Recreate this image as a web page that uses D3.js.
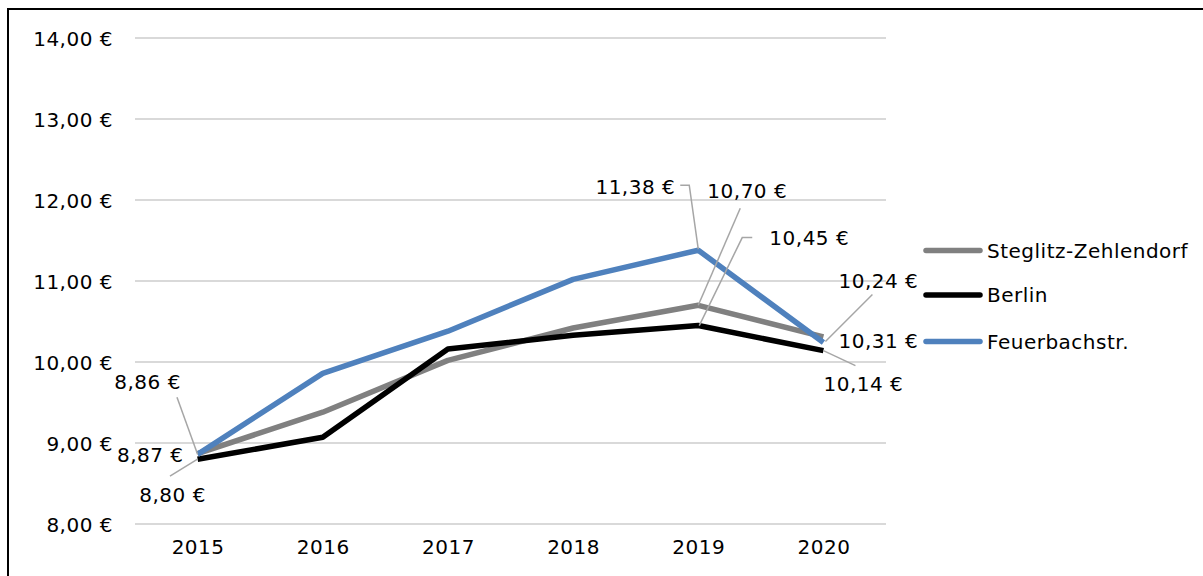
<!DOCTYPE html>
<html><head><meta charset="utf-8">
<script src="https://cdn.jsdelivr.net/npm/d3@7"></script>
<style>
html,body{margin:0;padding:0;background:#fff;}
svg{display:block;}
text{font-family:"DejaVu Sans",sans-serif;fill:#000;}
</style></head>
<body>
<svg id="chart" width="1203" height="576"></svg>
<script>
// ---- data ----
const years = [2015, 2016, 2017, 2018, 2019, 2020];
const seriesNames = ["Steglitz-Zehlendorf", "Berlin", "Feuerbachstr."];
const steglitz = [8.87, 9.38, 10.02, 10.42, 10.70, 10.31];
const berlin = [8.80, 9.07, 10.16, 10.33, 10.45, 10.14];
const feuerbach = [8.86, 9.86, 10.38, 11.02, 11.38, 10.24];
const yTicks = [8, 9, 10, 11, 12, 13, 14];
const labelledYears = [2015, 2019, 2020];

// ---- layout / style ----
const colors = ["#808080", "#000000", "#4f81bd"];
const plot = {left: 135, right: 886, top: 38, bottom: 524};
const fontSize = 20;
const ls = 0.5;

// label placements relative to the point (pixels) and leader points
const labelLayout = {
  "Steglitz-Zehlendorf": {
    2015: {dx: -14, dy: 1.5, anchor: "end", leader: null},
    2019: {dx: 49, dy: -114, anchor: "middle", leader: [[42, -97], [0, 0]]},
    2020: {dx: 55, dy: 4, anchor: "middle", leader: null}
  },
  "Berlin": {
    2015: {dx: -25, dy: 36, anchor: "middle", leader: [[-27.6, 17], [0, 0]]},
    2019: {dx: 111, dy: -88, anchor: "middle", leader: [[54, -88], [44, -88], [1, 0]]},
    2020: {dx: 40, dy: 33, anchor: "middle", leader: [[32, 15], [0, 0]]}
  },
  "Feuerbachstr.": {
    2015: {dx: -50, dy: -72, anchor: "middle", leader: [[-20.6, -57], [0, 0]]},
    2019: {dx: -23, dy: -63, anchor: "end", leader: [[-18, -65], [-9, -65], [0, -1]]},
    2020: {dx: 55, dy: -62, anchor: "middle", leader: [[49, -48], [2, -1]]}
  }
};

const svg = d3.select("#chart");
const x = d3.scalePoint().domain(years).range([plot.left, plot.right]).padding(0.5);
const y = d3.scaleLinear().domain([8, 14]).range([plot.bottom, plot.top]);
const fmt = v => d3.format(".2f")(v).replace(".", ",") + " €";

// border
svg.append("rect").attr("x", 8).attr("y", 9).attr("width", 1400).attr("height", 800)
  .attr("fill", "none").attr("stroke", "#000").attr("stroke-width", 2);

// gridlines
svg.append("g").selectAll("line").data(yTicks).join("line")
  .attr("x1", plot.left).attr("x2", plot.right)
  .attr("y1", d => y(d)).attr("y2", d => y(d))
  .attr("stroke", "#d9d9d9").attr("stroke-width", 2);

// y axis labels
const yAxis = d3.axisLeft(y).tickValues(yTicks).tickSize(0).tickPadding(0).tickFormat(fmt);
const gy = svg.append("g").attr("transform", `translate(113,0)`).call(yAxis);
gy.select(".domain").remove();
gy.selectAll("text").attr("font-size", fontSize).attr("letter-spacing", ls)
  .attr("font-family", "DejaVu Sans").attr("fill", "#000").attr("dy", "0.35em");

// x axis labels
const xAxis = d3.axisBottom(x).tickSize(0).tickPadding(0);
const gx = svg.append("g").attr("transform", `translate(0,${plot.bottom})`).call(xAxis);
gx.select(".domain").remove();
gx.selectAll("text").attr("font-size", fontSize).attr("letter-spacing", ls)
  .attr("font-family", "DejaVu Sans").attr("fill", "#000").attr("dy", "1.5em");

const seriesValues = [steglitz, berlin, feuerbach];
const series = seriesNames.map((n, i) => ({name: n, color: colors[i],
  values: years.map((yr, j) => ({year: yr, v: seriesValues[i][j]}))}));

const line = d3.line().x(d => x(d.year)).y(d => y(d.v));

// lines
svg.append("g").selectAll("path").data(series).join("path")
  .attr("d", d => line(d.values)).attr("fill", "none")
  .attr("stroke", d => d.color).attr("stroke-width", 5.5)
  .attr("stroke-linejoin", "round").attr("stroke-linecap", "butt");

// data labels and leaders
const gl = svg.append("g");
series.forEach(s => {
  s.values.filter(d => labelledYears.includes(d.year)).forEach(d => {
    const L = labelLayout[s.name][d.year];
    const px = x(d.year), py = y(d.v);
    if (L.leader) {
      gl.append("polyline")
        .attr("points", L.leader.map(p => [px + p[0], py + p[1]].join(",")).join(" "))
        .attr("fill", "none").attr("stroke", "#a6a6a6").attr("stroke-width", 1.5);
    }
    gl.append("text").attr("x", px + L.dx).attr("y", py + L.dy)
      .attr("dy", "0.35em").attr("text-anchor", L.anchor)
      .attr("font-size", fontSize).attr("letter-spacing", ls)
      .text(fmt(d.v));
  });
});

// legend
const legendRows = [250.5, 295, 341.5];
const lg = svg.append("g").selectAll("g").data(series).join("g")
  .attr("transform", (d, i) => `translate(926,${legendRows[i]})`);
lg.append("line").attr("x1", 0).attr("x2", 54).attr("y1", 0).attr("y2", 0)
  .attr("stroke", d => d.color).attr("stroke-width", 5.5).attr("stroke-linecap", "round");
lg.append("text").attr("x", 61).attr("dy", "0.35em")
  .attr("font-size", fontSize).attr("letter-spacing", ls).text(d => d.name);
</script>
</body></html>
